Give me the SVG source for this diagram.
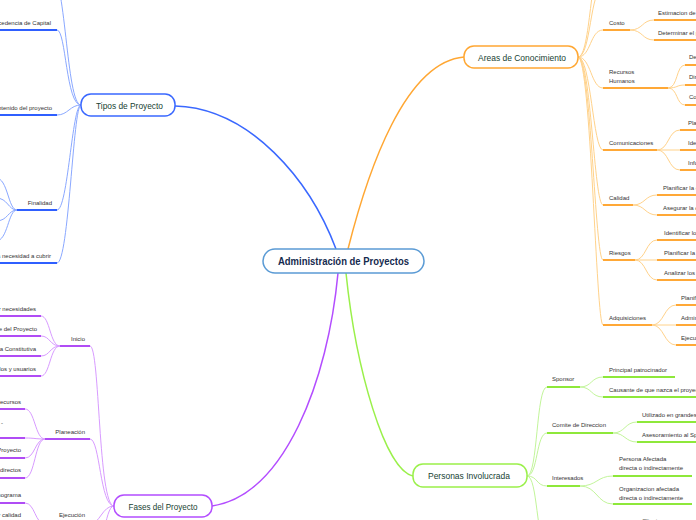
<svg xmlns="http://www.w3.org/2000/svg" width="696" height="520" viewBox="0 0 696 520">
<style>
text{font-family:"Liberation Sans",Arial,sans-serif}
.lbl{font-size:6px;fill:#333}
.ttl{font-size:9.5px;fill:#173f33}
.ctr{font-size:10px;fill:#152a4e;font-weight:bold}
.n{fill:#fff;stroke-width:1.5}
path{fill:none}
.bm{stroke:#3a68ff;stroke-width:1.5}
.bt{stroke:#8aa8ff;stroke-width:1}
.bu{stroke:#2f5fff;stroke-width:2}
.om{stroke:#ffa733;stroke-width:1.5}
.ot{stroke:#ffd28a;stroke-width:1}
.ou{stroke:#ffa836;stroke-width:2}
.gm{stroke:#9af04a;stroke-width:1.5}
.gt{stroke:#c2f59a;stroke-width:1}
.gu{stroke:#8ee83a;stroke-width:2}
.pm{stroke:#b34dff;stroke-width:1.5}
.pt{stroke:#d89bff;stroke-width:1}
.pu{stroke:#b04cf5;stroke-width:2}
</style>
<g id="connectors">
<path class="bm" d="M175,106 C250,108 310,180 336,249"/>
<path class="om" d="M348,249 C368,170 405,62 464,57"/>
<path class="pm" d="M338,273 C328,380 285,495 212,506"/>
<path class="gm" d="M346,273 C356,370 385,470 413,476"/>
<!-- blue -->
<path class="bt" d="M81,105 C66,105 66,-30 50,-30"/>
<path class="bt" d="M81,105 C66,105 66,30 57,30"/>
<path class="bt" d="M81,105 C70,105 68,115 57,115"/>
<path class="bt" d="M81,105 C72,105 68,210 57,210"/>
<path class="bt" d="M81,105 C73,105 69,263 57,263"/>
<path class="bt" d="M17,210 C8,210 8,178 -4,178"/>
<path class="bt" d="M17,210 C8,210 8,198 -4,198"/>
<path class="bt" d="M17,210 C8,210 8,221 -4,221"/>
<path class="bt" d="M17,210 C8,210 8,241 -4,241"/>
<!-- orange -->
<path class="ot" d="M578,57 C591,57 590,-40 603,-40"/>
<path class="ot" d="M578,57 C591,57 590,-12 603,-12"/>
<path class="ot" d="M578,57 C591,57 590,30 603,30"/>
<path class="ot" d="M578,57 C591,57 591,88 603,88"/>
<path class="ot" d="M578,57 C591,57 593,150 603,150"/>
<path class="ot" d="M578,57 C591,57 594,205 603,205"/>
<path class="ot" d="M578,57 C591,57 595,260 603,260"/>
<path class="ot" d="M578,57 C591,57 596,325 603,325"/>
<path class="ot" d="M630,30 C643,30 642,20 654,20"/>
<path class="ot" d="M630,30 C643,30 642,40 654,40"/>
<path class="ot" d="M668,88 C678,88 676,65 685,65"/>
<path class="ot" d="M668,88 C678,88 676,85 685,85"/>
<path class="ot" d="M668,88 C678,88 676,105 685,105"/>
<path class="ot" d="M657,150 C669,150 668,130 680,130"/>
<path class="ot" d="M657,150 L680,150"/>
<path class="ot" d="M657,150 C669,150 668,170 680,170"/>
<path class="ot" d="M633,205 C645,205 645,195 657,195"/>
<path class="ot" d="M633,205 C645,205 645,215 657,215"/>
<path class="ot" d="M635,260 C646,260 646,240 657,240"/>
<path class="ot" d="M635,260 L657,260"/>
<path class="ot" d="M635,260 C646,260 646,280 657,280"/>
<path class="ot" d="M652,325 C664,325 664,305 676,305"/>
<path class="ot" d="M652,325 L676,325"/>
<path class="ot" d="M652,325 C664,325 664,345 676,345"/>
<!-- green -->
<path class="gt" d="M527,476 C538,476 536,387 547,387"/>
<path class="gt" d="M527,476 C538,476 536,433 547,433"/>
<path class="gt" d="M527,476 C538,476 536,486 547,486"/>
<path class="gt" d="M527,476 C538,476 536,545 547,545"/>
<path class="gt" d="M580,387 C592,387 591,377 603,377"/>
<path class="gt" d="M580,387 C592,387 591,397 603,397"/>
<path class="gt" d="M613,433 C625,433 625,422 637,422"/>
<path class="gt" d="M613,433 C625,433 625,442 637,442"/>
<path class="gt" d="M580,486 C597,486 597,476 613,476"/>
<path class="gt" d="M580,486 C597,486 597,504 613,504"/>
<!-- purple -->
<path class="pt" d="M114,506 C98,506 100,346 90,346"/>
<path class="pt" d="M114,506 C100,506 100,439 90,439"/>
<path class="pt" d="M114,506 C102,506 100,524 90,524"/>
<path class="pt" d="M114,506 C104,506 104,560 90,560"/>
<path class="pt" d="M60,346 C50,346 50,316 41,316"/>
<path class="pt" d="M60,346 C50,346 50,336 41,336"/>
<path class="pt" d="M60,346 C50,346 50,356 41,356"/>
<path class="pt" d="M60,346 C50,346 50,376 41,376"/>
<path class="pt" d="M45,439 C35,439 35,409 25,409"/>
<path class="pt" d="M45,439 C35,439 35,438 25,438"/>
<path class="pt" d="M45,439 C35,439 35,458 25,458"/>
<path class="pt" d="M45,439 C35,439 35,478 25,478"/>
<path class="pt" d="M45,524 C35,524 35,503 25,503"/>
<path class="pt" d="M45,524 C35,524 35,523 25,523"/>
</g>
<g id="central"><rect class="n" x="263" y="249" width="161" height="24" rx="12" stroke="#5b9bd5"/><text class="ctr" x="343.5" y="264.5" text-anchor="middle" textLength="131" lengthAdjust="spacingAndGlyphs">Administración de Proyectos</text></g>
<g id="tipos"><rect class="n" x="81" y="94" width="94" height="22" rx="10" stroke="#3a68ff"/><text class="ttl" x="129.5" y="108.5" text-anchor="middle" textLength="67" lengthAdjust="spacingAndGlyphs">Tipos de Proyecto</text></g>
<g id="areas"><rect class="n" x="464" y="46" width="114" height="22" rx="10" stroke="#ffa733"/><text class="ttl" x="522" y="60.5" text-anchor="middle" textLength="88" lengthAdjust="spacingAndGlyphs">Areas de Conocimiento</text></g>
<g id="personas"><rect class="n" x="413" y="464" width="114" height="23" rx="10" stroke="#9af04a"/><text class="ttl" x="469" y="479" text-anchor="middle" textLength="82" lengthAdjust="spacingAndGlyphs">Personas Involucrada</text></g>
<g id="fases"><rect class="n" x="114" y="495" width="98" height="22" rx="10" stroke="#b34dff"/><text class="ttl" x="163" y="509.5" text-anchor="middle" textLength="69" lengthAdjust="spacingAndGlyphs">Fases del Proyecto</text></g>
<!-- blue labels -->
<g id="t-capital"><line class="bu" x1="-5" y1="30" x2="57" y2="30"/><text class="lbl" x="51" y="25" text-anchor="end">Procedencia de Capital</text></g>
<g id="t-contenido"><line class="bu" x1="-5" y1="115" x2="57" y2="115"/><text class="lbl" x="52" y="110" text-anchor="end">Contenido del proyecto</text></g>
<g id="t-finalidad"><line class="bu" x1="17" y1="210" x2="57" y2="210"/><text class="lbl" x="52" y="205" text-anchor="end">Finalidad</text></g>
<g id="t-necesidad"><line class="bu" x1="-5" y1="263" x2="57" y2="263"/><text class="lbl" x="51" y="257.5" text-anchor="end">Según la necesidad a cubrir</text></g>
<!-- purple labels -->
<g id="f-inicio"><line class="pu" x1="60" y1="346" x2="90" y2="346"/><text class="lbl" x="85" y="340.5" text-anchor="end">Inicio</text></g>
<g id="f-i1"><line class="pu" x1="-5" y1="316" x2="41" y2="316"/><text class="lbl" x="36" y="310.5" text-anchor="end">Identificar necesidades</text></g>
<g id="f-i2"><line class="pu" x1="-5" y1="336" x2="41" y2="336"/><text class="lbl" x="37" y="330.5" text-anchor="end">Alcance del Proyecto</text></g>
<g id="f-i3"><line class="pu" x1="-5" y1="356" x2="41" y2="356"/><text class="lbl" x="36" y="350.5" text-anchor="end">Acta Constitutiva</text></g>
<g id="f-i4"><line class="pu" x1="-5" y1="376" x2="41" y2="376"/><text class="lbl" x="36" y="370.5" text-anchor="end">Involucrados y usuarios</text></g>
<g id="f-planeacion"><line class="pu" x1="45" y1="439" x2="90" y2="439"/><text class="lbl" x="85" y="434" text-anchor="end">Planeación</text></g>
<g id="f-p1"><line class="pu" x1="-5" y1="409" x2="25" y2="409"/><text class="lbl" x="21" y="404" text-anchor="end">Recursos</text></g>
<g id="f-p2"><line class="pu" x1="-5" y1="438" x2="25" y2="438"/><text class="lbl" x="3" y="425" text-anchor="end">Definir actividades -</text></g>
<g id="f-p3"><line class="pu" x1="-5" y1="458" x2="25" y2="458"/><text class="lbl" x="21" y="452" text-anchor="end">Plan de Proyecto</text></g>
<g id="f-p4"><line class="pu" x1="-5" y1="478" x2="25" y2="478"/><text class="lbl" x="21" y="472" text-anchor="end">Costos directos</text></g>
<g id="f-ejecucion"><line class="pu" x1="45" y1="524" x2="90" y2="524"/><text class="lbl" x="85" y="517" text-anchor="end">Ejecución</text></g>
<g id="f-e1"><line class="pu" x1="-5" y1="503" x2="25" y2="503"/><text class="lbl" x="21" y="497" text-anchor="end">Cronograma</text></g>
<g id="f-e2"><text class="lbl" x="21" y="517" text-anchor="end">Control de tiempo y calidad</text></g>
<!-- orange labels -->
<g id="a-costo"><line class="ou" x1="603" y1="30" x2="630" y2="30"/><text class="lbl" x="609" y="25">Costo</text></g>
<g id="a-c1"><line class="ou" x1="654" y1="20" x2="700" y2="20"/><text class="lbl" x="658" y="15">Estimacion  de costos</text></g>
<g id="a-c2"><line class="ou" x1="654" y1="40" x2="700" y2="40"/><text class="lbl" x="658" y="35">Determinar el presupuesto</text></g>
<g id="a-rrhh"><line class="ou" x1="603" y1="88" x2="668" y2="88"/><text class="lbl" x="609" y="74">Recursos</text><text class="lbl" x="609" y="83">Humanos</text></g>
<g id="a-r1"><line class="ou" x1="685" y1="65" x2="700" y2="65"/><text class="lbl" x="689" y="59">Desarrollar plan</text></g>
<g id="a-r2"><line class="ou" x1="685" y1="85" x2="700" y2="85"/><text class="lbl" x="689" y="79">Dirigir equipo</text></g>
<g id="a-r3"><line class="ou" x1="685" y1="105" x2="700" y2="105"/><text class="lbl" x="689" y="99">Contratar equipo</text></g>
<g id="a-com"><line class="ou" x1="603" y1="150" x2="657" y2="150"/><text class="lbl" x="609" y="145">Comunicaciones</text></g>
<g id="a-m1"><line class="ou" x1="680" y1="130" x2="700" y2="130"/><text class="lbl" x="688" y="125">Planificar</text></g>
<g id="a-m2"><line class="ou" x1="680" y1="150" x2="700" y2="150"/><text class="lbl" x="688" y="145">Identificar</text></g>
<g id="a-m3"><line class="ou" x1="680" y1="170" x2="700" y2="170"/><text class="lbl" x="688" y="164.5">Informar</text></g>
<g id="a-calidad"><line class="ou" x1="603" y1="205" x2="633" y2="205"/><text class="lbl" x="609" y="200">Calidad</text></g>
<g id="a-q1"><line class="ou" x1="657" y1="195" x2="700" y2="195"/><text class="lbl" x="663" y="190">Planificar la calidad</text></g>
<g id="a-q2"><line class="ou" x1="657" y1="215" x2="700" y2="215"/><text class="lbl" x="663" y="210">Asegurar la calidad</text></g>
<g id="a-riesgos"><line class="ou" x1="603" y1="260" x2="635" y2="260"/><text class="lbl" x="609" y="255">Riesgos</text></g>
<g id="a-g1"><line class="ou" x1="657" y1="240" x2="700" y2="240"/><text class="lbl" x="664" y="235">Identificar los riesgos</text></g>
<g id="a-g2"><line class="ou" x1="657" y1="260" x2="700" y2="260"/><text class="lbl" x="664" y="255">Planificar la respuesta</text></g>
<g id="a-g3"><line class="ou" x1="657" y1="280" x2="700" y2="280"/><text class="lbl" x="664" y="275">Analizar los riesgos</text></g>
<g id="a-adq"><line class="ou" x1="603" y1="325" x2="652" y2="325"/><text class="lbl" x="609" y="320">Adquisiciones</text></g>
<g id="a-d1"><line class="ou" x1="676" y1="305" x2="700" y2="305"/><text class="lbl" x="681" y="300">Planificar</text></g>
<g id="a-d2"><line class="ou" x1="676" y1="325" x2="700" y2="325"/><text class="lbl" x="681" y="320">Administrar</text></g>
<g id="a-d3"><line class="ou" x1="676" y1="345" x2="700" y2="345"/><text class="lbl" x="681" y="340">Ejecutar</text></g>
<!-- green labels -->
<g id="p-sponsor"><line class="gu" x1="547" y1="387" x2="580" y2="387"/><text class="lbl" x="552" y="381">Sponsor</text></g>
<g id="p-s1"><line class="gu" x1="603" y1="377" x2="675" y2="377"/><text class="lbl" x="609" y="372">Principal patrocinador</text></g>
<g id="p-s2"><line class="gu" x1="603" y1="397" x2="700" y2="397"/><text class="lbl" x="609" y="392">Causante de que nazca el proyecto</text></g>
<g id="p-comite"><line class="gu" x1="547" y1="433" x2="613" y2="433"/><text class="lbl" x="552" y="427">Comite de Direccion</text></g>
<g id="p-c1"><line class="gu" x1="637" y1="422" x2="700" y2="422"/><text class="lbl" x="642" y="416.5">Utilizado en grandes proyectos</text></g>
<g id="p-c2"><line class="gu" x1="637" y1="442" x2="700" y2="442"/><text class="lbl" x="642" y="437">Asesoramiento al Sponsor</text></g>
<g id="p-interesados"><line class="gu" x1="547" y1="486" x2="580" y2="486"/><text class="lbl" x="552" y="480">Interesados</text></g>
<g id="p-i1"><line class="gu" x1="613" y1="476" x2="692" y2="476"/><text class="lbl" x="619" y="461">Persona Afectada</text><text class="lbl" x="619" y="470">directa o indirectamente</text></g>
<g id="p-i2"><line class="gu" x1="613" y1="504" x2="692" y2="504"/><text class="lbl" x="619" y="491">Organizacion afectada</text><text class="lbl" x="619" y="499.5">directa o indirectamente</text></g>
<g id="p-x"><text class="lbl" x="642" y="522.5">Clientes</text></g>
</svg>
